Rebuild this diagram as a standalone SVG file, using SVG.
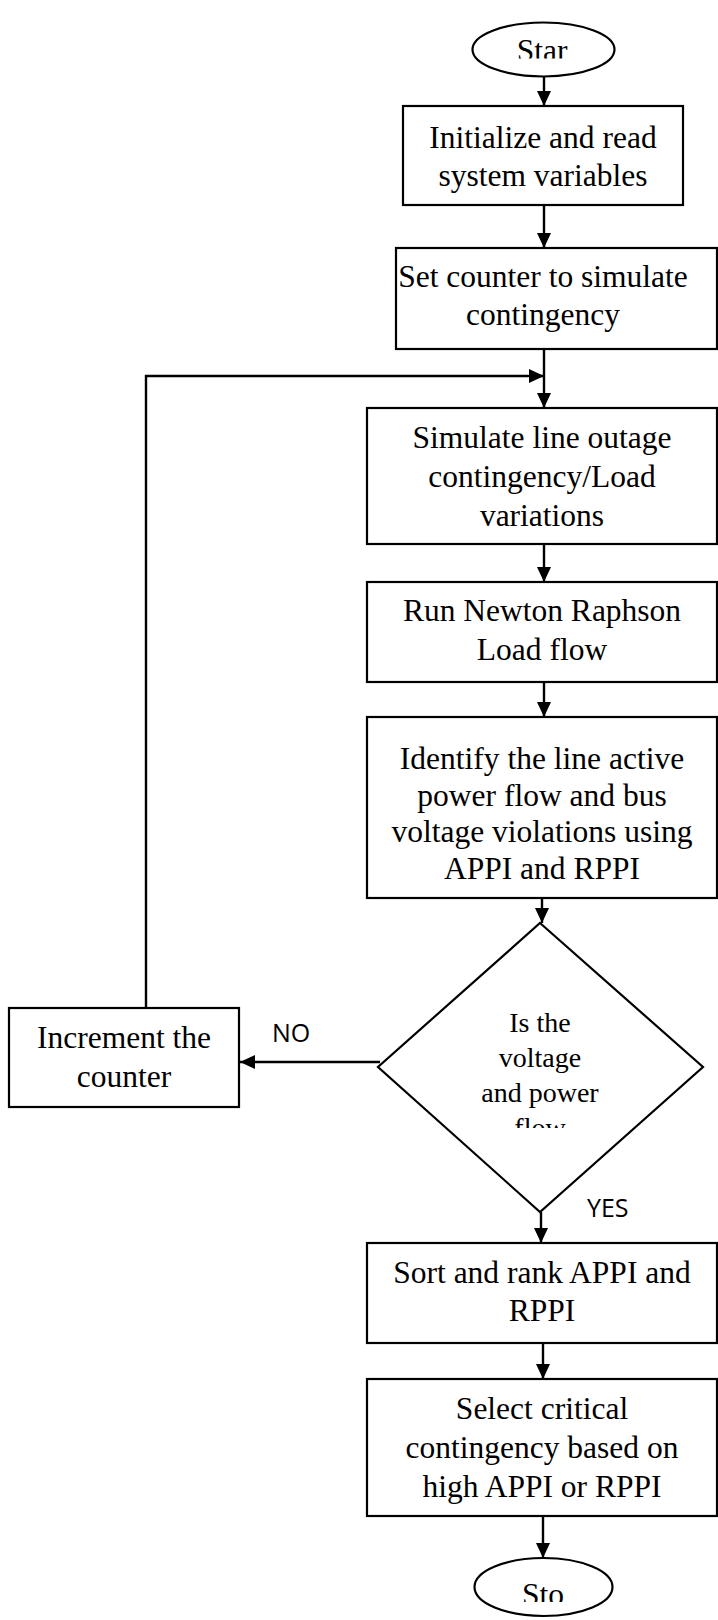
<svg xmlns="http://www.w3.org/2000/svg" width="718" height="1620" viewBox="0 0 718 1620">
<style>
.box{fill:#fff;stroke:#000;stroke-width:2.2}
.t{font-family:"Liberation Serif","Times New Roman",serif;font-size:31.5px;fill:#000;text-anchor:middle}
.td{font-family:"Liberation Serif","Times New Roman",serif;font-size:28px;fill:#000;text-anchor:middle}
.lbl{font-family:"Open Sans","Liberation Sans",sans-serif;font-size:25px;fill:#000}
.c{fill:none;stroke:#000;stroke-width:2.4}
</style>
<defs>
<marker id="ah" markerUnits="userSpaceOnUse" markerWidth="15" markerHeight="14" refX="15" refY="7" orient="auto">
<path d="M0,0 L15,7 L0,14 z" fill="#000"/>
</marker>
<clipPath id="clipStart"><rect x="470" y="20" width="150" height="38.5"/></clipPath>
<clipPath id="clipStop"><rect x="470" y="1555" width="150" height="47"/></clipPath>
<clipPath id="clipFlow"><rect x="440" y="1100" width="200" height="28"/></clipPath>
</defs>
<rect width="718" height="1620" fill="#fff"/>

<g id="connectors">
<line class="c" x1="544" y1="77" x2="544" y2="106" marker-end="url(#ah)"/>
<line class="c" x1="544" y1="205" x2="544" y2="248" marker-end="url(#ah)"/>
<line class="c" x1="544" y1="349" x2="544" y2="408" marker-end="url(#ah)"/>
<polyline class="c" points="146,1008 146,376 544,376" marker-end="url(#ah)"/>
<line class="c" x1="544" y1="544" x2="544" y2="582" marker-end="url(#ah)"/>
<line class="c" x1="544" y1="682" x2="544" y2="717" marker-end="url(#ah)"/>
<line class="c" x1="542" y1="898" x2="542" y2="923" marker-end="url(#ah)"/>
<line class="c" x1="380" y1="1062" x2="240" y2="1062" marker-end="url(#ah)"/>
<line class="c" x1="541" y1="1212" x2="541" y2="1243" marker-end="url(#ah)"/>
<line class="c" x1="543" y1="1343" x2="543" y2="1379" marker-end="url(#ah)"/>
<line class="c" x1="543" y1="1516" x2="543" y2="1558" marker-end="url(#ah)"/>
</g>

<g id="start">
<ellipse class="box" cx="543.5" cy="49.5" rx="71" ry="27"/>
<text class="t" x="542" y="60.5" clip-path="url(#clipStart)">Star</text>
</g>

<g id="init">
<rect class="box" x="403" y="106" width="280" height="99"/>
<text class="t" x="543" y="148">Initialize and read</text>
<text class="t" x="543" y="185.5">system variables</text>
</g>

<g id="setcounter">
<rect class="box" x="396" y="248" width="321" height="101"/>
<text class="t" x="543" y="287">Set counter to simulate</text>
<text class="t" x="543" y="325">contingency</text>
</g>

<g id="simulate">
<rect class="box" x="367" y="408" width="350" height="136"/>
<text class="t" x="542" y="448">Simulate line outage</text>
<text class="t" x="542" y="487">contingency/Load</text>
<text class="t" x="542" y="526">variations</text>
</g>

<g id="newton">
<rect class="box" x="367" y="582" width="350" height="100"/>
<text class="t" x="542" y="621">Run Newton Raphson</text>
<text class="t" x="542" y="660">Load flow</text>
</g>

<g id="identify">
<rect class="box" x="367" y="717" width="350" height="181"/>
<text class="t" x="542" y="769">Identify the line active</text>
<text class="t" x="542" y="806">power flow and bus</text>
<text class="t" x="542" y="842">voltage violations using</text>
<text class="t" x="542" y="879">APPI and RPPI</text>
</g>

<g id="decision">
<polygon class="box" points="540,923 703,1067 540,1212 378,1067"/>
<text class="td" x="540" y="1032">Is the</text>
<text class="td" x="540" y="1067">voltage</text>
<text class="td" x="540" y="1102">and power</text>
<text class="td" x="540" y="1137" clip-path="url(#clipFlow)">flow</text>
</g>

<g id="increment">
<rect class="box" x="9" y="1008" width="230" height="99"/>
<text class="t" x="124" y="1048">Increment the</text>
<text class="t" x="124" y="1087">counter</text>
</g>

<g id="labels">
<text class="lbl" x="272" y="1042">NO</text>
<text class="lbl" x="587" y="1217">YES</text>
</g>

<g id="sort">
<rect class="box" x="367" y="1243" width="350" height="100"/>
<text class="t" x="542" y="1283">Sort and rank APPI and</text>
<text class="t" x="542" y="1321">RPPI</text>
</g>

<g id="select">
<rect class="box" x="367" y="1379" width="350" height="137"/>
<text class="t" x="542" y="1419">Select critical</text>
<text class="t" x="542" y="1458">contingency based on</text>
<text class="t" x="542" y="1497">high APPI or RPPI</text>
</g>

<g id="stop">
<ellipse class="box" cx="543.5" cy="1587" rx="69" ry="29"/>
<text class="t" x="543" y="1605" clip-path="url(#clipStop)">Sto</text>
</g>
</svg>
